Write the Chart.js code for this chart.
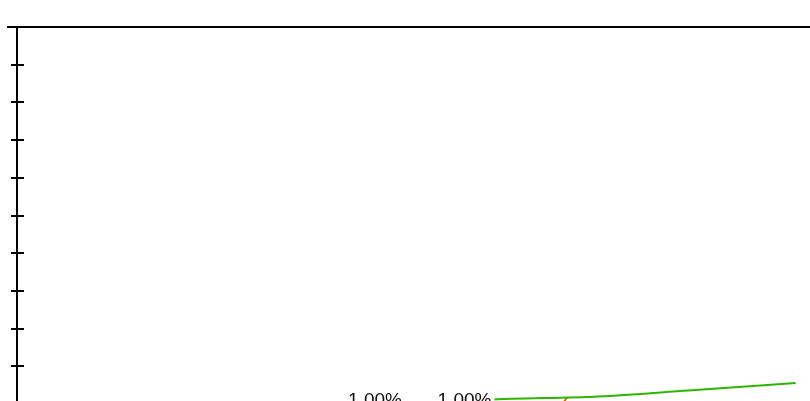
<!DOCTYPE html>
<html>
<head>
<meta charset="utf-8">
<script src="https://cdn.jsdelivr.net/npm/chart.js@4/dist/chart.umd.min.js"></script>
<style>
  html, body { margin: 0; padding: 0; background: #fff; }
  #wrap { position: relative; width: 810px; height: 401px; overflow: hidden; background: #fff; }
  #c { position: absolute; left: 0; top: 0; }
</style>
</head>
<body>
<div id="wrap"><canvas id="c" width="920" height="800"></canvas></div>
<script>
// ---- data ----
const yMin = 0, yMax = 2.0, yStep = 0.1;       // y axis (percent)
const xMin = 2010, xMax = 2020;                 // x axis (years)

const labelYears  = [2014, 2015];
const labelValues = [1.00, 1.00];

const greenYears  = [2013, 2014, 2015.25, 2016.5, 2017.5, 2018.7];
const greenValues = [0.97, 0.99, 1.011, 1.020, 1.036, 1.056];

const orangeYears  = [2015, 2016, 2016.15];
const orangeValues = [0.95, 0.97, 1.018];

const pts = (xs, ys) => xs.map((x, i) => ({ x: x, y: ys[i] }));

const axisTicksPlugin = {
  id: 'axisTicks',
  afterDraw(chart) {
    const s = chart.scales.y;
    const ctx = chart.ctx;
    const n = s.ticks.length;
    ctx.save();
    ctx.strokeStyle = '#000';
    ctx.lineWidth = 2;
    for (let i = 0; i < n; i++) {
      const y = Math.round(s.getPixelForTick(i));
      ctx.beginPath();
      if (i === n - 1) {
        ctx.moveTo(s.right - 10, y);
        ctx.lineTo(s.right, y);
      } else {
        ctx.moveTo(s.right, y);
        ctx.lineTo(s.right + 7, y);
      }
      ctx.stroke();
    }
    ctx.restore();
  }
};

const valueLabelPlugin = {
  id: 'valueLabels',
  afterDatasetsDraw(chart) {
    const ctx = chart.ctx;
    chart.data.datasets.forEach((ds, di) => {
      if (!ds.showValues) return;
      const meta = chart.getDatasetMeta(di);
      meta.data.forEach((pt, i) => {
        const txt = ds.data[i].y.toFixed(2) + '%';
        ctx.save();
        ctx.font = '19px "Liberation Sans", Arial, sans-serif';
        const w = ctx.measureText(txt).width;
        const base = pt.y + 2;
        ctx.fillStyle = '#fff';
        ctx.fillRect(pt.x - w / 2 - 3, base - 16, w + 6, 22);
        ctx.fillStyle = '#111';
        ctx.textAlign = 'center';
        ctx.textBaseline = 'alphabetic';
        ctx.fillText(txt, pt.x, base);
        ctx.restore();
      });
    });
  }
};

new Chart(document.getElementById('c'), {
  type: 'line',
  data: {
    datasets: [
      { label: 'Green', data: pts(greenYears, greenValues), borderColor: '#2cb800', borderWidth: 2, pointRadius: 0, fill: false, cubicInterpolationMode: 'monotone' },
      { label: 'Orange', data: pts(orangeYears, orangeValues), borderColor: '#e07000', borderWidth: 2, pointRadius: 0, fill: false, tension: 0 },
      { label: 'Values', data: pts(labelYears, labelValues), showLine: false, pointRadius: 0, borderColor: 'rgba(0,0,0,0)', showValues: true }
    ]
  },
  options: {
    responsive: false,
    animation: false,
    layout: { padding: { left: 11, top: 27, right: 8, bottom: 19 } },
    plugins: { legend: { display: false }, tooltip: { enabled: false } },
    scales: {
      x: { type: 'linear', min: xMin, max: xMax, display: false },
      y: {
        min: yMin, max: yMax,
        ticks: { display: false, stepSize: yStep, maxTicksLimit: 40 },
        border: { display: true, color: '#000', width: 2 },
        grid: {
          display: true,
          drawOnChartArea: true,
          drawTicks: true,
          tickLength: 6,
          tickWidth: 2,
          tickColor: '#000',
          lineWidth: 2,
          color: (c) => (c.index === c.scale.ticks.length - 1 ? '#000' : 'rgba(0,0,0,0)')
        }
      }
    }
  },
  plugins: [axisTicksPlugin, valueLabelPlugin]
});
</script>
</body>
</html>
